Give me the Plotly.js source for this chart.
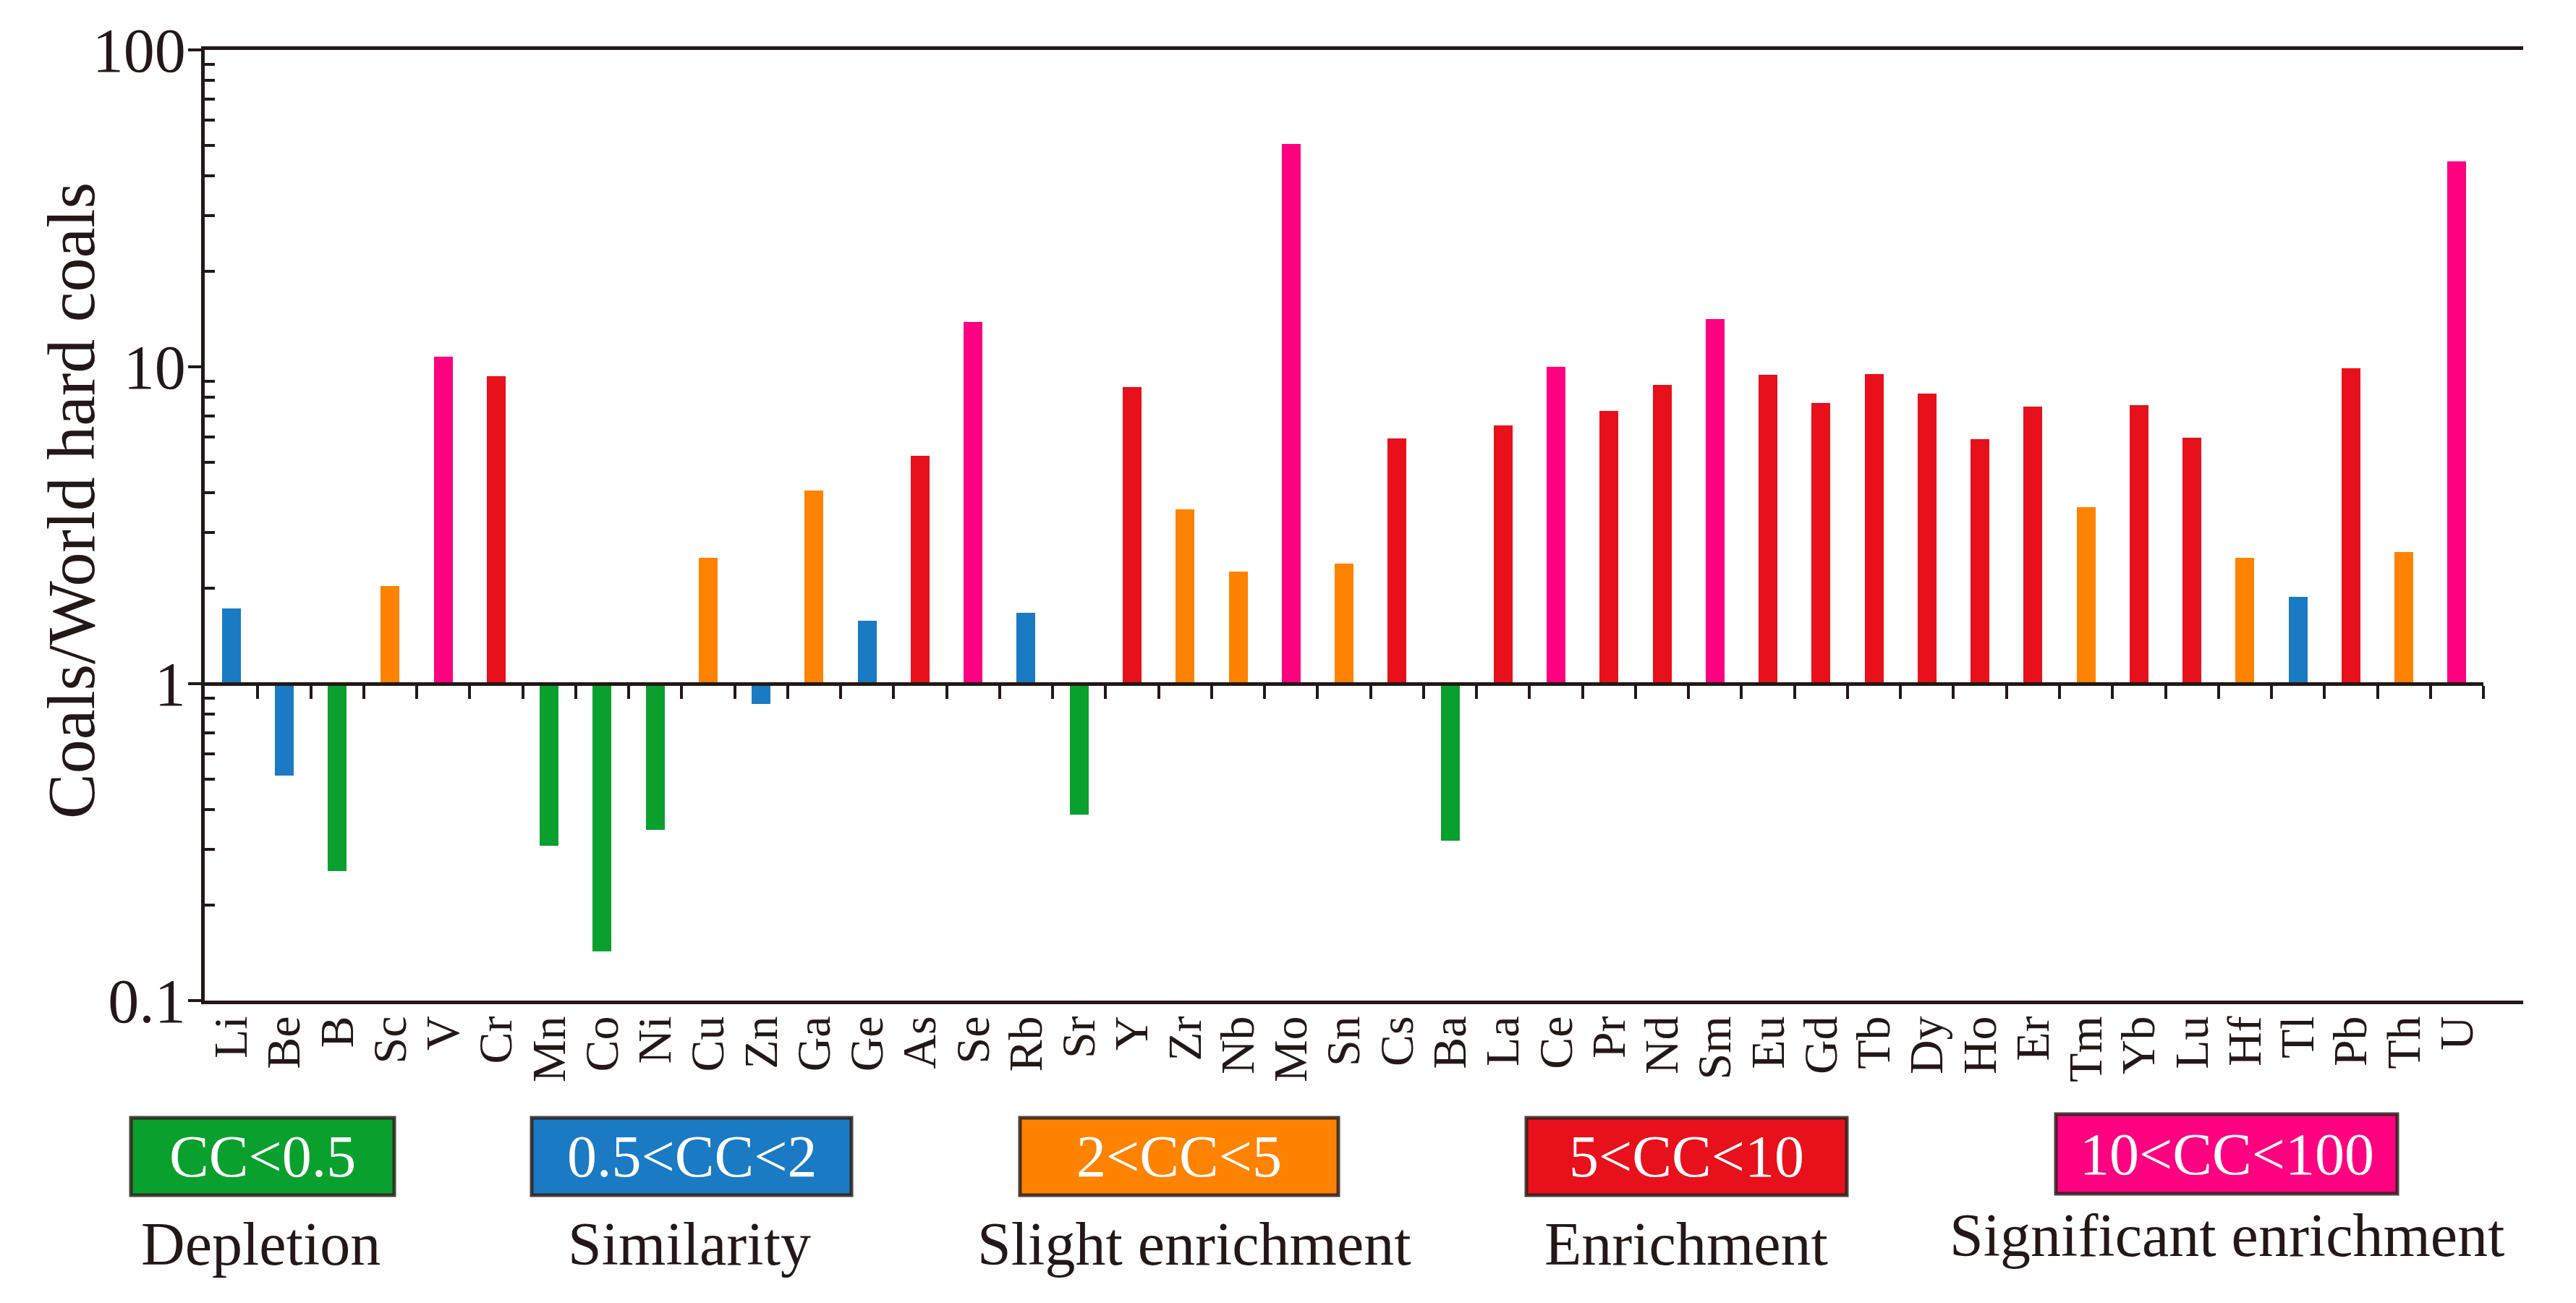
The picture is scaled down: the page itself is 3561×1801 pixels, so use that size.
<!DOCTYPE html>
<html>
<head>
<meta charset="utf-8">
<script src="https://cdn.plot.ly/plotly-3.0.1.min.js"></script>
<style>
html,body{margin:0;padding:0;background:#ffffff;}
#chart{width:3561px;height:1801px;}
</style>
</head>
<body>
<div id="chart"></div>
<script>
// ---------------- DATA ----------------
const elements = ['Li','Be','B','Sc','V','Cr','Mn','Co','Ni','Cu','Zn','Ga','Ge','As','Se','Rb','Sr','Y','Zr','Nb','Mo','Sn','Cs','Ba','La','Ce','Pr','Nd','Sm','Eu','Gd','Tb','Dy','Ho','Er','Tm','Yb','Lu','Hf','Tl','Pb','Th','U'];
const ratios = [1.73,0.514,0.256,2.03,10.75,9.33,0.308,0.143,0.345,2.49,0.865,4.06,1.58,5.23,13.85,1.67,0.387,8.64,3.55,2.26,50.6,2.39,5.93,0.319,6.52,10.0,7.26,8.76,14.15,9.44,7.70,9.49,8.24,5.91,7.47,3.60,7.56,5.98,2.50,1.88,9.90,2.61,44.5];
// enrichment class of each element: 0 depletion, 1 similarity, 2 slight, 3 enrichment, 4 significant
const classes = [1,1,0,2,4,3,0,0,0,2,1,2,1,3,4,1,0,3,2,2,4,2,3,0,3,4,3,3,4,3,3,3,3,3,3,2,3,3,2,1,3,2,4];
const classRanges = ['CC&lt;0.5','0.5&lt;CC&lt;2','2&lt;CC&lt;5','5&lt;CC&lt;10','10&lt;CC&lt;100'];
const classNames = ['Depletion','Similarity','Slight enrichment','Enrichment','Significant enrichment'];
const yTickVals = [0.1,1,10,100];
const yTickText = ['0.1','1','10','100'];
const yTitle = 'Coals/World hard coals';

// ---------------- STYLE ----------------
const classColors = ['#0aa02e','#1a7ac4','#ff8200','#e8101b','#ff0080'];
const INK = '#231815';
const SERIF = '"Liberation Serif", "Times New Roman", Times, serif';

// plot area in pixels (for placing decorations outside the axes)
const PX0 = 283, PX1 = 3488, PY0 = 69, PY1 = 1383;
const px = v => (v - PX0) / (PX1 - PX0);
const py = v => (PY1 - v) / (PY1 - PY0);

const nCat = elements.length;
const extra = 0.75;
const baseValue = 1;

// bars grow up or down from 1 on the log axis
const barTrace = {
  type: 'bar',
  x: elements,
  y: ratios.map(v => v - baseValue),
  base: ratios.map(() => baseValue),
  width: 0.355,
  marker: {color: classes.map(c => classColors[c]), line: {width: 0}},
  hoverinfo: 'skip',
  showlegend: false,
  xaxis: 'x',
  yaxis: 'y'
};

const boundaryTicks = elements.map((e, i) => i + 0.5);

const minorVals = [];
[0.1, 1, 10].forEach(d => { for (let k = 2; k <= 9; k++) minorVals.push(k * d); });

// legend geometry (pixels)
const boxX = [[181,545],[735,1177],[1410,1850],[2110,2553],[2842,3314]];
const boxY = [[1545,1652],[1545,1652],[1545,1652],[1545,1652],[1540,1650]];
const labelX = [360, 953, 1651, 2331, 3078];
const labelY = [1719, 1719, 1719, 1719, 1707];

const shapes = [];
const annotations = [];
classNames.forEach((name, i) => {
  shapes.push({
    type: 'rect', xref: 'paper', yref: 'paper', layer: 'above',
    x0: px(boxX[i][0]), x1: px(boxX[i][1]), y0: py(boxY[i][1]), y1: py(boxY[i][0]),
    fillcolor: classColors[i], line: {color: 'rgba(45,30,28,0.85)', width: 5}
  });
  annotations.push({
    xref: 'paper', yref: 'paper', x: px((boxX[i][0] + boxX[i][1]) / 2), y: py((boxY[i][0] + boxY[i][1]) / 2),
    xanchor: 'center', yanchor: 'middle', showarrow: false,
    text: classRanges[i], font: {family: SERIF, size: 82, color: '#ffffff'}
  });
  annotations.push({
    xref: 'paper', yref: 'paper', x: px(labelX[i]), y: py(labelY[i]),
    xanchor: 'center', yanchor: 'middle', showarrow: false,
    text: name, font: {family: SERIF, size: 84, color: INK}
  });
});
annotations.push({
  xref: 'paper', yref: 'paper', x: px(98), y: py(692),
  xanchor: 'center', yanchor: 'middle', showarrow: false, textangle: -90,
  text: yTitle, font: {family: SERIF, size: 94, color: INK}
});

const layout = {
  width: 3561, height: 1801,
  margin: {l: PX0, r: 3561 - PX1, t: PY0, b: 1801 - PY1, pad: 0},
  paper_bgcolor: '#ffffff',
  plot_bgcolor: 'rgba(0,0,0,0)',
  showlegend: false,
  bargap: 0,
  xaxis: {
    type: 'category', categoryorder: 'array', categoryarray: elements,
    range: [-0.5, nCat - 0.5 + extra], autorange: false, domain: [0, 1], anchor: 'y',
    showline: true, linewidth: 5, linecolor: INK, mirror: true,
    ticks: '', showgrid: false, zeroline: false,
    tickmode: 'linear', tick0: 0, dtick: 1, ticklabelstandoff: -10,
    tickangle: -90, tickfont: {family: SERIF, size: 66, color: INK}
  },
  xaxis2: {
    type: 'linear', domain: [0, nCat / (nCat + extra)], range: [-0.5, nCat - 0.5], autorange: false,
    anchor: 'free', position: (Math.log10(baseValue) + 1) / 3, side: 'bottom',
    showline: true, linewidth: 5, linecolor: INK,
    ticks: 'outside', ticklen: 18, tickwidth: 4, tickcolor: INK,
    tickmode: 'array', tickvals: boundaryTicks, showticklabels: false,
    showgrid: false, zeroline: false
  },
  yaxis: {
    type: 'log', range: [-1, 2], autorange: false, domain: [0, 1],
    showline: true, linewidth: 5, linecolor: INK,
    ticks: 'outside', ticklen: 18, tickwidth: 4, tickcolor: INK,
    tickmode: 'array', tickvals: yTickVals, ticktext: yTickText, ticklabelstandoff: -14,
    tickfont: {family: SERIF, size: 86, color: INK},
    showgrid: false, zeroline: false,
    minor: {tickmode: 'array', tickvals: minorVals, ticks: 'inside', ticklen: 14, tickwidth: 4, tickcolor: INK, showgrid: false}
  },
  shapes: shapes,
  annotations: annotations
};

const axisHelper = {type: 'scatter', x: [], y: [], xaxis: 'x2', yaxis: 'y', hoverinfo: 'skip', showlegend: false};

Plotly.newPlot('chart', [barTrace, axisHelper], layout, {displayModeBar: false, staticPlot: true});
</script>
</body>
</html>
